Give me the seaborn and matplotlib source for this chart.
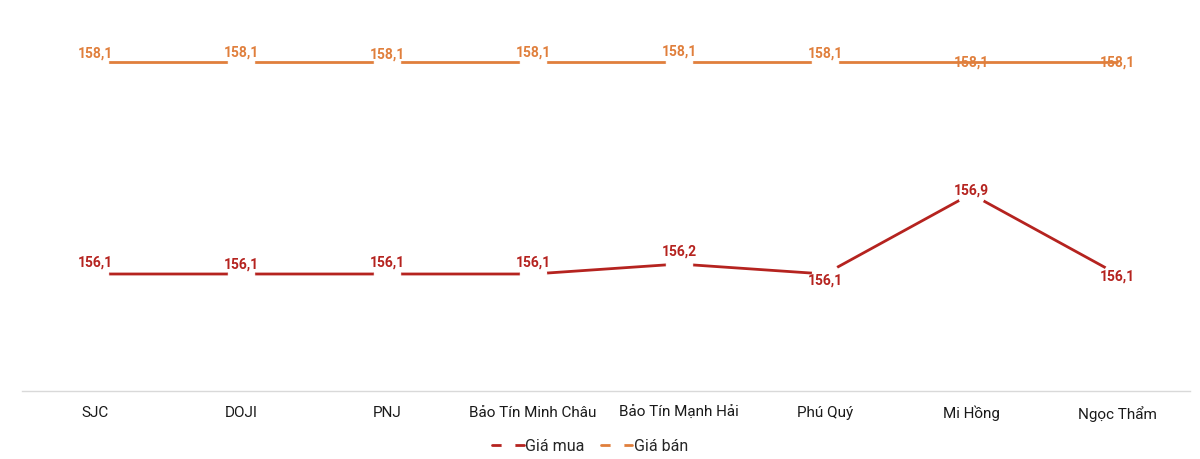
import matplotlib
matplotlib.use("Agg")
import matplotlib.pyplot as plt
from matplotlib.lines import Line2D
import seaborn as sns
import pandas as pd

# ---- dữ liệu ----
brands = ["SJC", "DOJI", "PNJ", "Bảo Tín Minh Châu", "Bảo Tín Mạnh Hải",
          "Phú Quý", "Mi Hồng", "Ngọc Thẩm"]
gia_mua = [156.1, 156.1, 156.1, 156.1, 156.2, 156.1, 156.9, 156.1]
gia_ban = [158.1, 158.1, 158.1, 158.1, 158.1, 158.1, 158.1, 158.1]

# độ lệch nhãn (pixel, dương = lên trên)
mua_dy = [12, 10, 12, 12, 13, -6, 4, -2]
ban_dy = [9, 10, 8, 10, 11, 9, 0, 0]

RED = "#B5231F"
ORANGE = "#E07F3C"

df = pd.DataFrame({"brand": brands, "mua": gia_mua, "ban": gia_ban})

sns.set_style("white")
plt.rcParams["font.family"] = ["Roboto", "Noto Sans", "DejaVu Sans"]

fig = plt.figure(figsize=(12, 4.6), dpi=100)
ax = fig.add_axes([22 / 1200, 1 - 392 / 460, 1168 / 1200, 372 / 460])
ax2 = ax.twinx()

sns.lineplot(data=df, x="brand", y="mua", ax=ax, color=RED, lw=2,
             marker="o", markersize=19, markerfacecolor="white",
             markeredgecolor="white", sort=False)
sns.lineplot(data=df, x="brand", y="ban", ax=ax2, color=ORANGE, lw=2,
             marker="o", markersize=19, markerfacecolor="white",
             markeredgecolor="white", markevery=[0, 1, 2, 3, 4, 5], sort=False)

ax.set_xlim(-0.5, len(brands) - 0.5)
ax.set_ylim(154.93, 158.65)
ax2.set_ylim(154.81, 158.53)

for i, (v, d) in enumerate(zip(gia_mua, mua_dy)):
    ax.annotate(f"{v:.1f}".replace(".", ","), (i, v), xytext=(0, d),
                textcoords="offset pixels", ha="center", va="center",
                fontsize=10, fontweight="bold", color=RED, zorder=5)
for i, (v, d) in enumerate(zip(gia_ban, ban_dy)):
    ax2.annotate(f"{v:.1f}".replace(".", ","), (i, v), xytext=(0, d),
                 textcoords="offset pixels", ha="center", va="center",
                 fontsize=10, fontweight="bold", color=ORANGE, zorder=5)

for a in (ax, ax2):
    a.set_ylabel("")
    a.set_xlabel("")
    a.set_yticks([])
    for s in ("top", "left", "right"):
        a.spines[s].set_visible(False)
ax2.spines["bottom"].set_visible(False)
ax.spines["bottom"].set_color("#D9D9D9")
ax.spines["bottom"].set_linewidth(1)
ax.tick_params(axis="x", length=0, pad=10, labelsize=11, labelcolor="#1a1a1a")

handles = [
    Line2D([], [], color=RED, lw=2, marker="o", markersize=9,
           markerfacecolor="white", markeredgecolor="white"),
    Line2D([], [], color=ORANGE, lw=2, marker="o", markersize=9,
           markerfacecolor="white", markeredgecolor="white"),
]
fig.legend(handles, ["Giá mua", "Giá bán"], loc="center",
           bbox_to_anchor=(590 / 1200, 1 - 447 / 460), ncol=2, frameon=False,
           fontsize=11.5, handlelength=2.0, handletextpad=0.1, columnspacing=1.0,
           numpoints=1)

fig.savefig("out.png", dpi=100)
